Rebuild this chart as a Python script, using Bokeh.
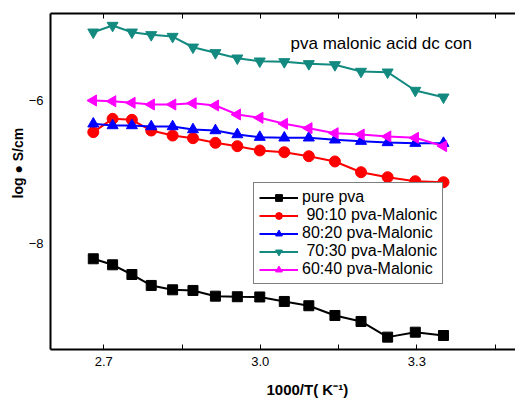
import math
from bokeh.plotting import figure
from bokeh.models import (Range1d, LinearAxis, FixedTicker, Legend, LegendItem,
                          Label, CustomJSTickFormatter, Title)
from bokeh.embed import file_html
from bokeh.resources import INLINE

# ---- data ----
x_vals = [2.680, 2.717, 2.754, 2.791, 2.832, 2.871, 2.914, 2.956,
          2.999, 3.046, 3.093, 3.143, 3.193, 3.244, 3.297, 3.351]
pure_pva = [-8.214, -8.298, -8.434, -8.587, -8.648, -8.657, -8.737, -8.745,
            -8.748, -8.811, -8.871, -9.007, -9.091, -9.310, -9.241, -9.287]
pva_90_10 = [-6.443, -6.256, -6.270, -6.420, -6.490, -6.527, -6.592, -6.639,
             -6.699, -6.723, -6.779, -6.853, -7.003, -7.073, -7.129, -7.143]
pva_80_20 = [-6.326, -6.350, -6.350, -6.364, -6.364, -6.406, -6.420, -6.476,
             -6.513, -6.522, -6.522, -6.550, -6.569, -6.587, -6.597, -6.597]
pva_70_30 = [-5.045, -4.951, -5.045, -5.081, -5.105, -5.255, -5.333, -5.408,
             -5.450, -5.459, -5.487, -5.501, -5.594, -5.604, -5.860, -5.954]
pva_60_40 = [-6.000, -6.010, -6.032, -6.056, -6.056, -6.038, -6.070, -6.196,
             -6.242, -6.326, -6.387, -6.457, -6.476, -6.503, -6.522, -6.639]

series_names = ["pure pva", " 90:10 pva-Malonic", "80:20 pva-Malonic",
                " 70:30 pva-Malonic", "60:40 pva-Malonic"]
x_tick_labels = [2.7, 3.0, 3.3]
x_minor = [2.85, 3.15, 3.45]
y_tick_labels = [-8, -6]

FONT = "Liberation Sans"

p = figure(width=515, height=409, output_backend="svg", toolbar_location=None,
           x_range=Range1d(2.598, 3.489), y_range=Range1d(-9.483, -4.783),
           x_axis_location=None, y_axis_location=None,
           min_border_left=50, min_border_right=0, min_border_top=13,
           min_border_bottom=60)
p.grid.visible = False
p.outline_line_color = None
p.background_fill_color = "white"
p.border_fill_color = "white"

# bottom axis
xb = LinearAxis(ticker=FixedTicker(ticks=x_tick_labels, minor_ticks=x_minor))
xb.axis_line_width = 2
xb.major_tick_in = 5
xb.major_tick_out = 0
xb.minor_tick_in = 5
xb.minor_tick_out = 0
xb.major_label_text_font = FONT
xb.major_label_text_font_size = "13px"
xb.major_label_text_color = "black"
xb.major_label_standoff = 7
xb.formatter = CustomJSTickFormatter(code="return tick.toFixed(1);")
p.add_layout(xb, "below")

# top axis (ticks only, no labels)
xt = LinearAxis(ticker=FixedTicker(ticks=[], minor_ticks=x_tick_labels + x_minor))
xt.axis_line_width = 2
xt.major_tick_in = 0
xt.major_tick_out = 0
xt.minor_tick_in = 5
xt.minor_tick_out = 0
p.add_layout(xt, "above")

# left axis
yl = LinearAxis(ticker=FixedTicker(ticks=y_tick_labels, minor_ticks=[]))
yl.axis_line_width = 2
yl.major_tick_in = 0
yl.major_tick_out = 0
yl.major_label_text_font = FONT
yl.major_label_text_font_size = "13px"
yl.major_label_text_color = "black"
yl.major_label_standoff = 7
p.add_layout(yl, "left")

xtitle = Title(text="1000/T( K\u207b\u00b9)", align="left", offset=216,
               text_font=FONT, text_font_style="bold", text_font_size="15px",
               text_color="black", standoff=20)
p.add_layout(xtitle, "below")

ytitle = Title(text="log \u25cf S/cm", align="left", offset=151,
               text_font=FONT, text_font_style="bold", text_font_size="14px",
               text_color="black", standoff=0)
p.add_layout(ytitle, "left")

colors = ["black", "red", "blue", "#138a80", "magenta"]
markers = ["square", "circle", "triangle", "inverted_triangle", "triangle"]
data = [pure_pva, pva_90_10, pva_80_20, pva_70_30, pva_60_40]
sizes = [10, 11, 11, 11, 11]
items = []
for name, ys, c, m, s in zip(series_names, data, colors, markers, sizes):
    r1 = p.line(x_vals, ys, line_color=c, line_width=2)
    if name.startswith("60:40"):
        r2 = p.scatter(x_vals, ys, marker="triangle", size=s, angle=math.pi / 2,
                       fill_color=c, line_color=c)
    else:
        r2 = p.scatter(x_vals, ys, marker=m, size=s, fill_color=c, line_color=c)
    items.append(LegendItem(label=name, renderers=[r1, r2]))

legend = Legend(items=items, location=(203, 65))
legend.border_line_color = "black"
legend.border_line_width = 1
legend.background_fill_alpha = 1
legend.label_text_font = FONT
legend.label_text_font_size = "16px"
legend.label_text_color = "black"
legend.glyph_width = 39
legend.glyph_height = 17
legend.label_height = 17
legend.spacing = 0
legend.padding = 5
legend.margin = 0
legend.label_standoff = 4
p.add_layout(legend, "center")

title = Label(x=240, y=306, x_units="screen", y_units="screen",
              text="pva malonic acid dc con", text_font=FONT,
              text_font_size="17px", text_baseline="middle", text_align="left",
              text_color="black")
p.add_layout(title)

open("out.html", "w").write(file_html(p, INLINE))
